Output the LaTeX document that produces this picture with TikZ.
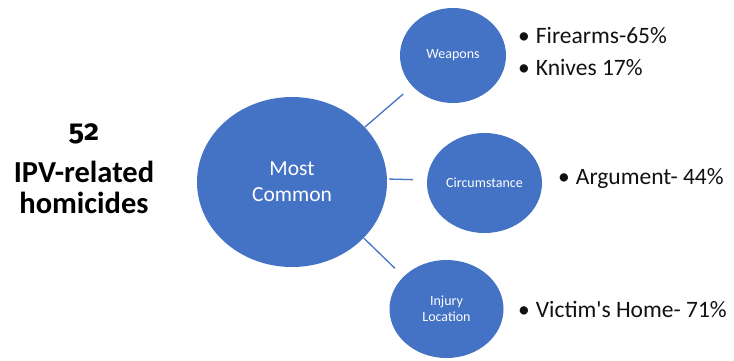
\documentclass[tikz,border=0pt]{standalone}
\usepackage{fontspec}
\setmainfont{Carlito}
\newfontfamily\plainfont[Ligatures=TeXOff]{Carlito}
\newfontfamily\oldnum[Numbers=OldStyle]{Fira Sans}
\usetikzlibrary{shapes.geometric}
\definecolor{obl}{HTML}{4472C4}
\definecolor{txt}{HTML}{111111}
\tikzset{
  bub/.style={ellipse, fill=obl, draw=none, inner sep=0pt, text=white, align=center, font=\fontsize{14}{16}\selectfont},
  link/.style={draw=obl, line width=1.3pt},
  bul/.style={anchor=base west, inner sep=0pt, text=txt, font=\plainfont\fontsize{23.5}{28}\selectfont},
  lft/.style={anchor=base, inner sep=0pt, text=black, font=\bfseries\fontsize{30.5}{33}\selectfont}
}
\begin{document}
\begin{tikzpicture}[x=1pt,y=-1pt]
\useasboundingbox (0,0) rectangle (734,360);
\node[bub, minimum width=190pt, minimum height=170pt, font=\fontsize{21.5}{27}\selectfont] (m) at (292,182) {Most\\[-1pt]Common};
\node[bub, minimum width=106pt, minimum height=95pt] (w) at (453,55.5) {Weapons};
\node[bub, minimum width=115pt, minimum height=100pt] (c) at (484.5,183) {Circumstance};
\node[bub, minimum width=114pt, minimum height=98pt] (l) at (446.5,309) {Injury\\Location};
\draw[link, shorten >=12pt] (m.37) -- (w.217);
\draw[link, shorten <=2pt, shorten >=14pt] ([yshift=3pt]m.east) -- ([yshift=3pt]c.west);
\draw[link, shorten >=12pt] (m.-38) -- (l.143);
\node[lft, font=\oldnum\fontseries{sb}\fontsize{29}{33}\selectfont] (n52) at (84,140) {52};
\node[lft] (ipv) at (84,182) {IPV-related};
\node[lft] (hom) at (84,213) {homicides};
\node[bul] (f) at (518,43) {•\hspace{6pt}Firearms-65\%};
\node[bul] (k) at (518,75) {•\hspace{6pt}Knives 17\%};
\node[bul] (a) at (558,184) {•\hspace{6pt}Argument- 44\%};
\node[bul] (v) at (518,317) {•\hspace{6pt}Victim's Home- 71\%};
\end{tikzpicture}
\end{document}
